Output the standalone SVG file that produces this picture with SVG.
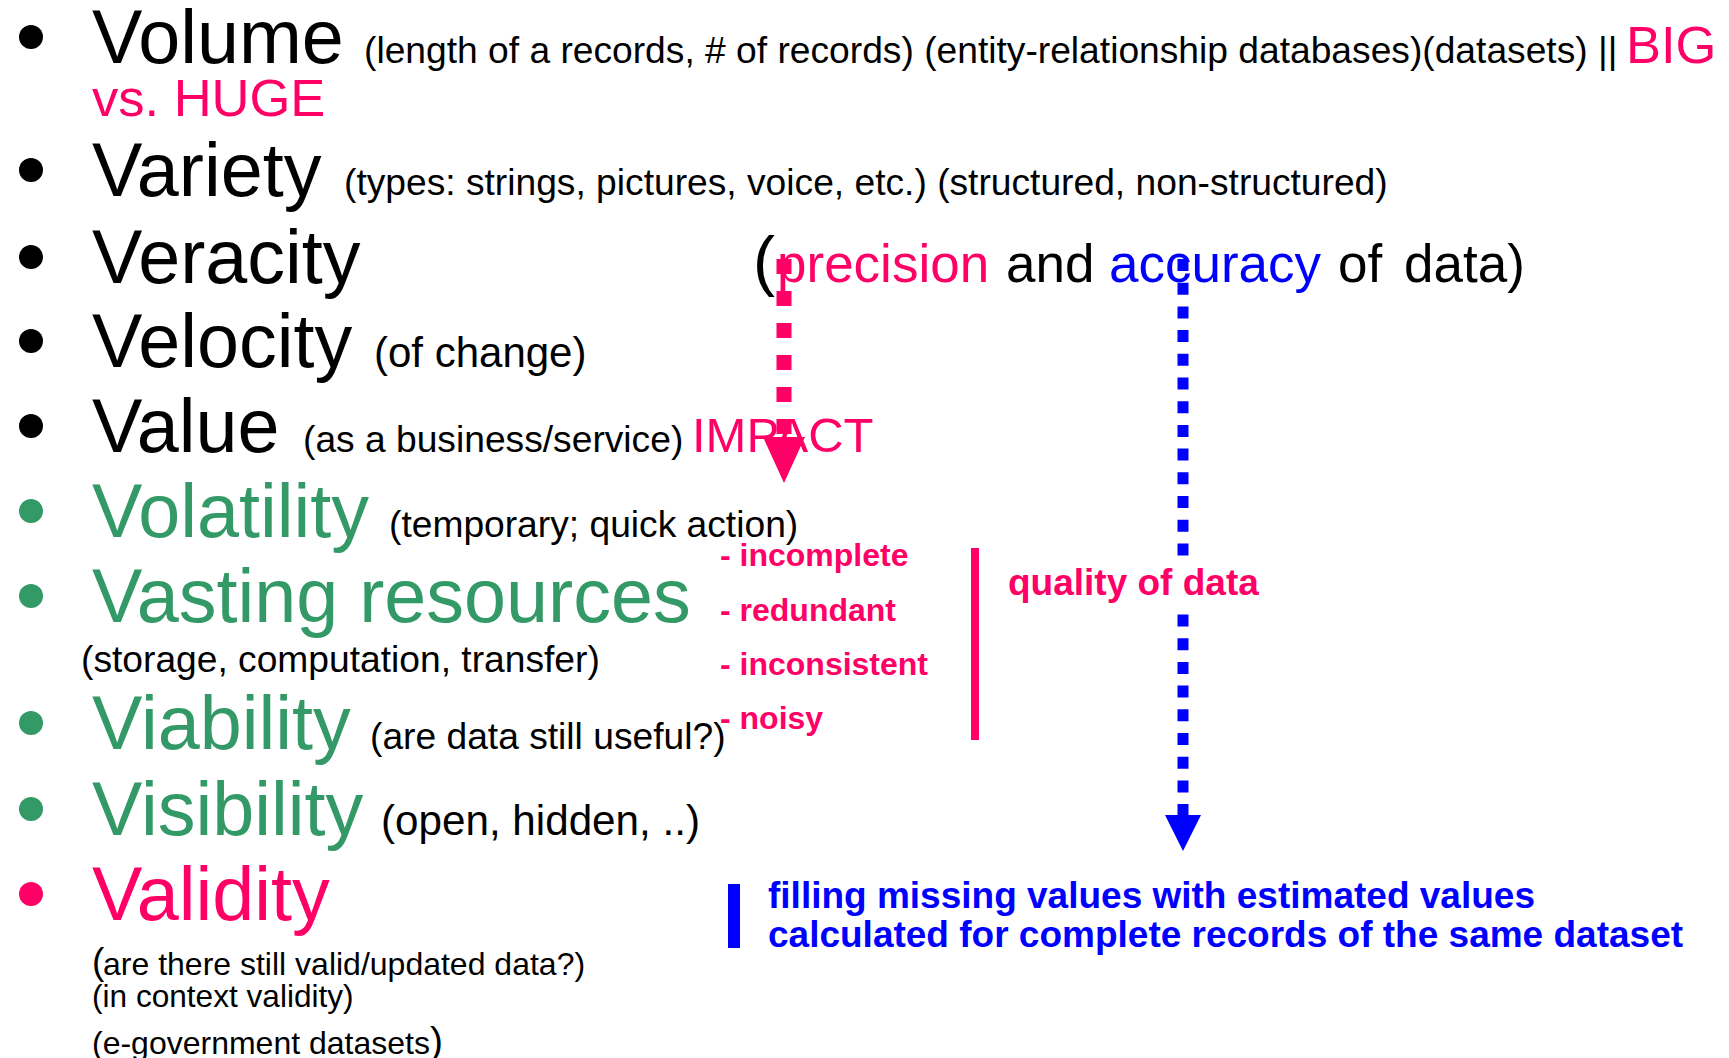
<svg xmlns="http://www.w3.org/2000/svg" width="1729" height="1058" viewBox="0 0 1729 1058">
<style>
text{font-family:"Liberation Sans",Arial,Helvetica,sans-serif;}
.t{font-size:75.5px;}
.s{font-size:37.2px;fill:#000;}
.k{fill:#000;}
.g{fill:#339966;}
.p{fill:#FF0066;}
.b{fill:#0000FF;}
.bd{font-weight:bold;}
</style>
<defs>
<marker id="headPink" markerUnits="userSpaceOnUse" markerWidth="46" markerHeight="42" viewBox="0 0 46 42" refX="0" refY="21" orient="auto">
<path d="M0,0 L46,21 L0,42 Z" fill="#FF0066"/>
</marker>
<marker id="headBlue" markerUnits="userSpaceOnUse" markerWidth="36" markerHeight="36" viewBox="0 0 36 36" refX="0" refY="18" orient="auto">
<path d="M0,0 L36,18 L0,36 Z" fill="#0000FF"/>
</marker>
</defs>
<rect width="1729" height="1058" fill="#fff"/>

<g id="volume">
<circle cx="31" cy="37" r="12" class="k"/>
<text x="92" y="63" class="t k">Volume</text>
<text x="364" y="63" class="s" font-size="37.4">(length of a records, # of records) (entity-relationship databases)(datasets) ||</text>
<text x="1626" y="63" font-size="52.5" class="p">BIG</text>
<text x="92" y="116" font-size="52.5" class="p">vs. HUGE</text>
</g>

<g id="variety">
<circle cx="31" cy="170" r="12" class="k"/>
<text x="92" y="196" class="t k">Variety</text>
<text x="344" y="195" class="s">(types: strings, pictures, voice, etc.) (structured, non-structured)</text>
</g>

<g id="veracity">
<circle cx="31" cy="257" r="12" class="k"/>
<text x="92" y="283" class="t k">Veracity</text>
<text x="753" y="283" font-size="66" class="k">(</text>
<text y="282" font-size="53"><tspan x="777" class="p">precision</tspan><tspan x="1006" class="k">and</tspan><tspan x="1109" class="b">accuracy</tspan><tspan x="1338" class="k">of</tspan><tspan x="1404" class="k">data)</tspan></text>
</g>

<g id="velocity">
<circle cx="31" cy="341" r="12" class="k"/>
<text x="92" y="367" class="t k">Velocity</text>
<text x="374" y="367" font-size="42" class="k">(of change)</text>
</g>

<g id="value">
<circle cx="31" cy="426" r="12" class="k"/>
<text x="92" y="452" class="t k">Value</text>
<text x="303" y="452" class="s">(as a business/service)</text>
<text x="692" y="452" font-size="49" class="p">IMPACT</text>
</g>

<g id="volatility">
<circle cx="31" cy="511" r="12" class="g"/>
<text x="92" y="537" class="t g">Volatility</text>
<text x="389" y="537" class="s">(temporary; quick action)</text>
</g>

<g id="vasting">
<circle cx="31" cy="596" r="12" class="g"/>
<text x="92" y="622" class="t g">Vasting resources</text>
<text x="81" y="672" class="s">(storage, computation, transfer)</text>
</g>

<g id="viability">
<circle cx="31" cy="723" r="12" class="g"/>
<text x="92" y="749" class="t g">Viability</text>
<text x="370" y="749" class="s">(are data still useful?)</text>
</g>

<g id="visibility">
<circle cx="31" cy="809" r="12" class="g"/>
<text x="92" y="835" class="t g">Visibility</text>
<text x="381" y="835" font-size="42.2" class="k">(open, hidden, ..)</text>
</g>

<g id="validity">
<circle cx="31" cy="894" r="12" class="p"/>
<text x="92" y="920" class="t p">Validity</text>
<text x="92" y="974" font-size="37" class="k">(</text>
<text x="103" y="975" font-size="32" class="k">are there still valid/updated data?)</text>
<text x="92" y="1007" font-size="31.6" class="k">(in context validity)</text>
<text x="92" y="1054" font-size="32" class="k">(e-government datasets<tspan font-size="39">)</tspan></text>
</g>

<g id="quality-issues">
<text x="720" y="566" font-size="32" class="p bd">- incomplete</text>
<text x="720" y="621" font-size="32" class="p bd">- redundant</text>
<text x="720" y="675" font-size="32" class="p bd">- inconsistent</text>
<text x="720" y="729" font-size="32" class="p bd">- noisy</text>
<rect x="971" y="548" width="8" height="192" class="p"/>
</g>

<g id="connectors">
<line x1="784" y1="259" x2="784" y2="437" stroke="#FF0066" stroke-width="15" stroke-dasharray="15 17" marker-end="url(#headPink)"/>
<line x1="1183" y1="259" x2="1183" y2="815" stroke="#0000FF" stroke-width="11" stroke-dasharray="12 11.7" marker-end="url(#headBlue)"/>
</g>

<g id="quality-of-data">
<rect x="1000" y="562" width="268" height="46" fill="#fff"/>
<text x="1008" y="595" font-size="37" class="p bd">quality of data</text>
</g>

<g id="filling">
<rect x="728" y="884" width="12" height="64" class="b"/>
<text x="768" y="908" font-size="37" class="b bd">filling missing values with estimated values</text>
<text x="768" y="947" font-size="37" class="b bd">calculated for complete records of the same dataset</text>
</g>
</svg>
